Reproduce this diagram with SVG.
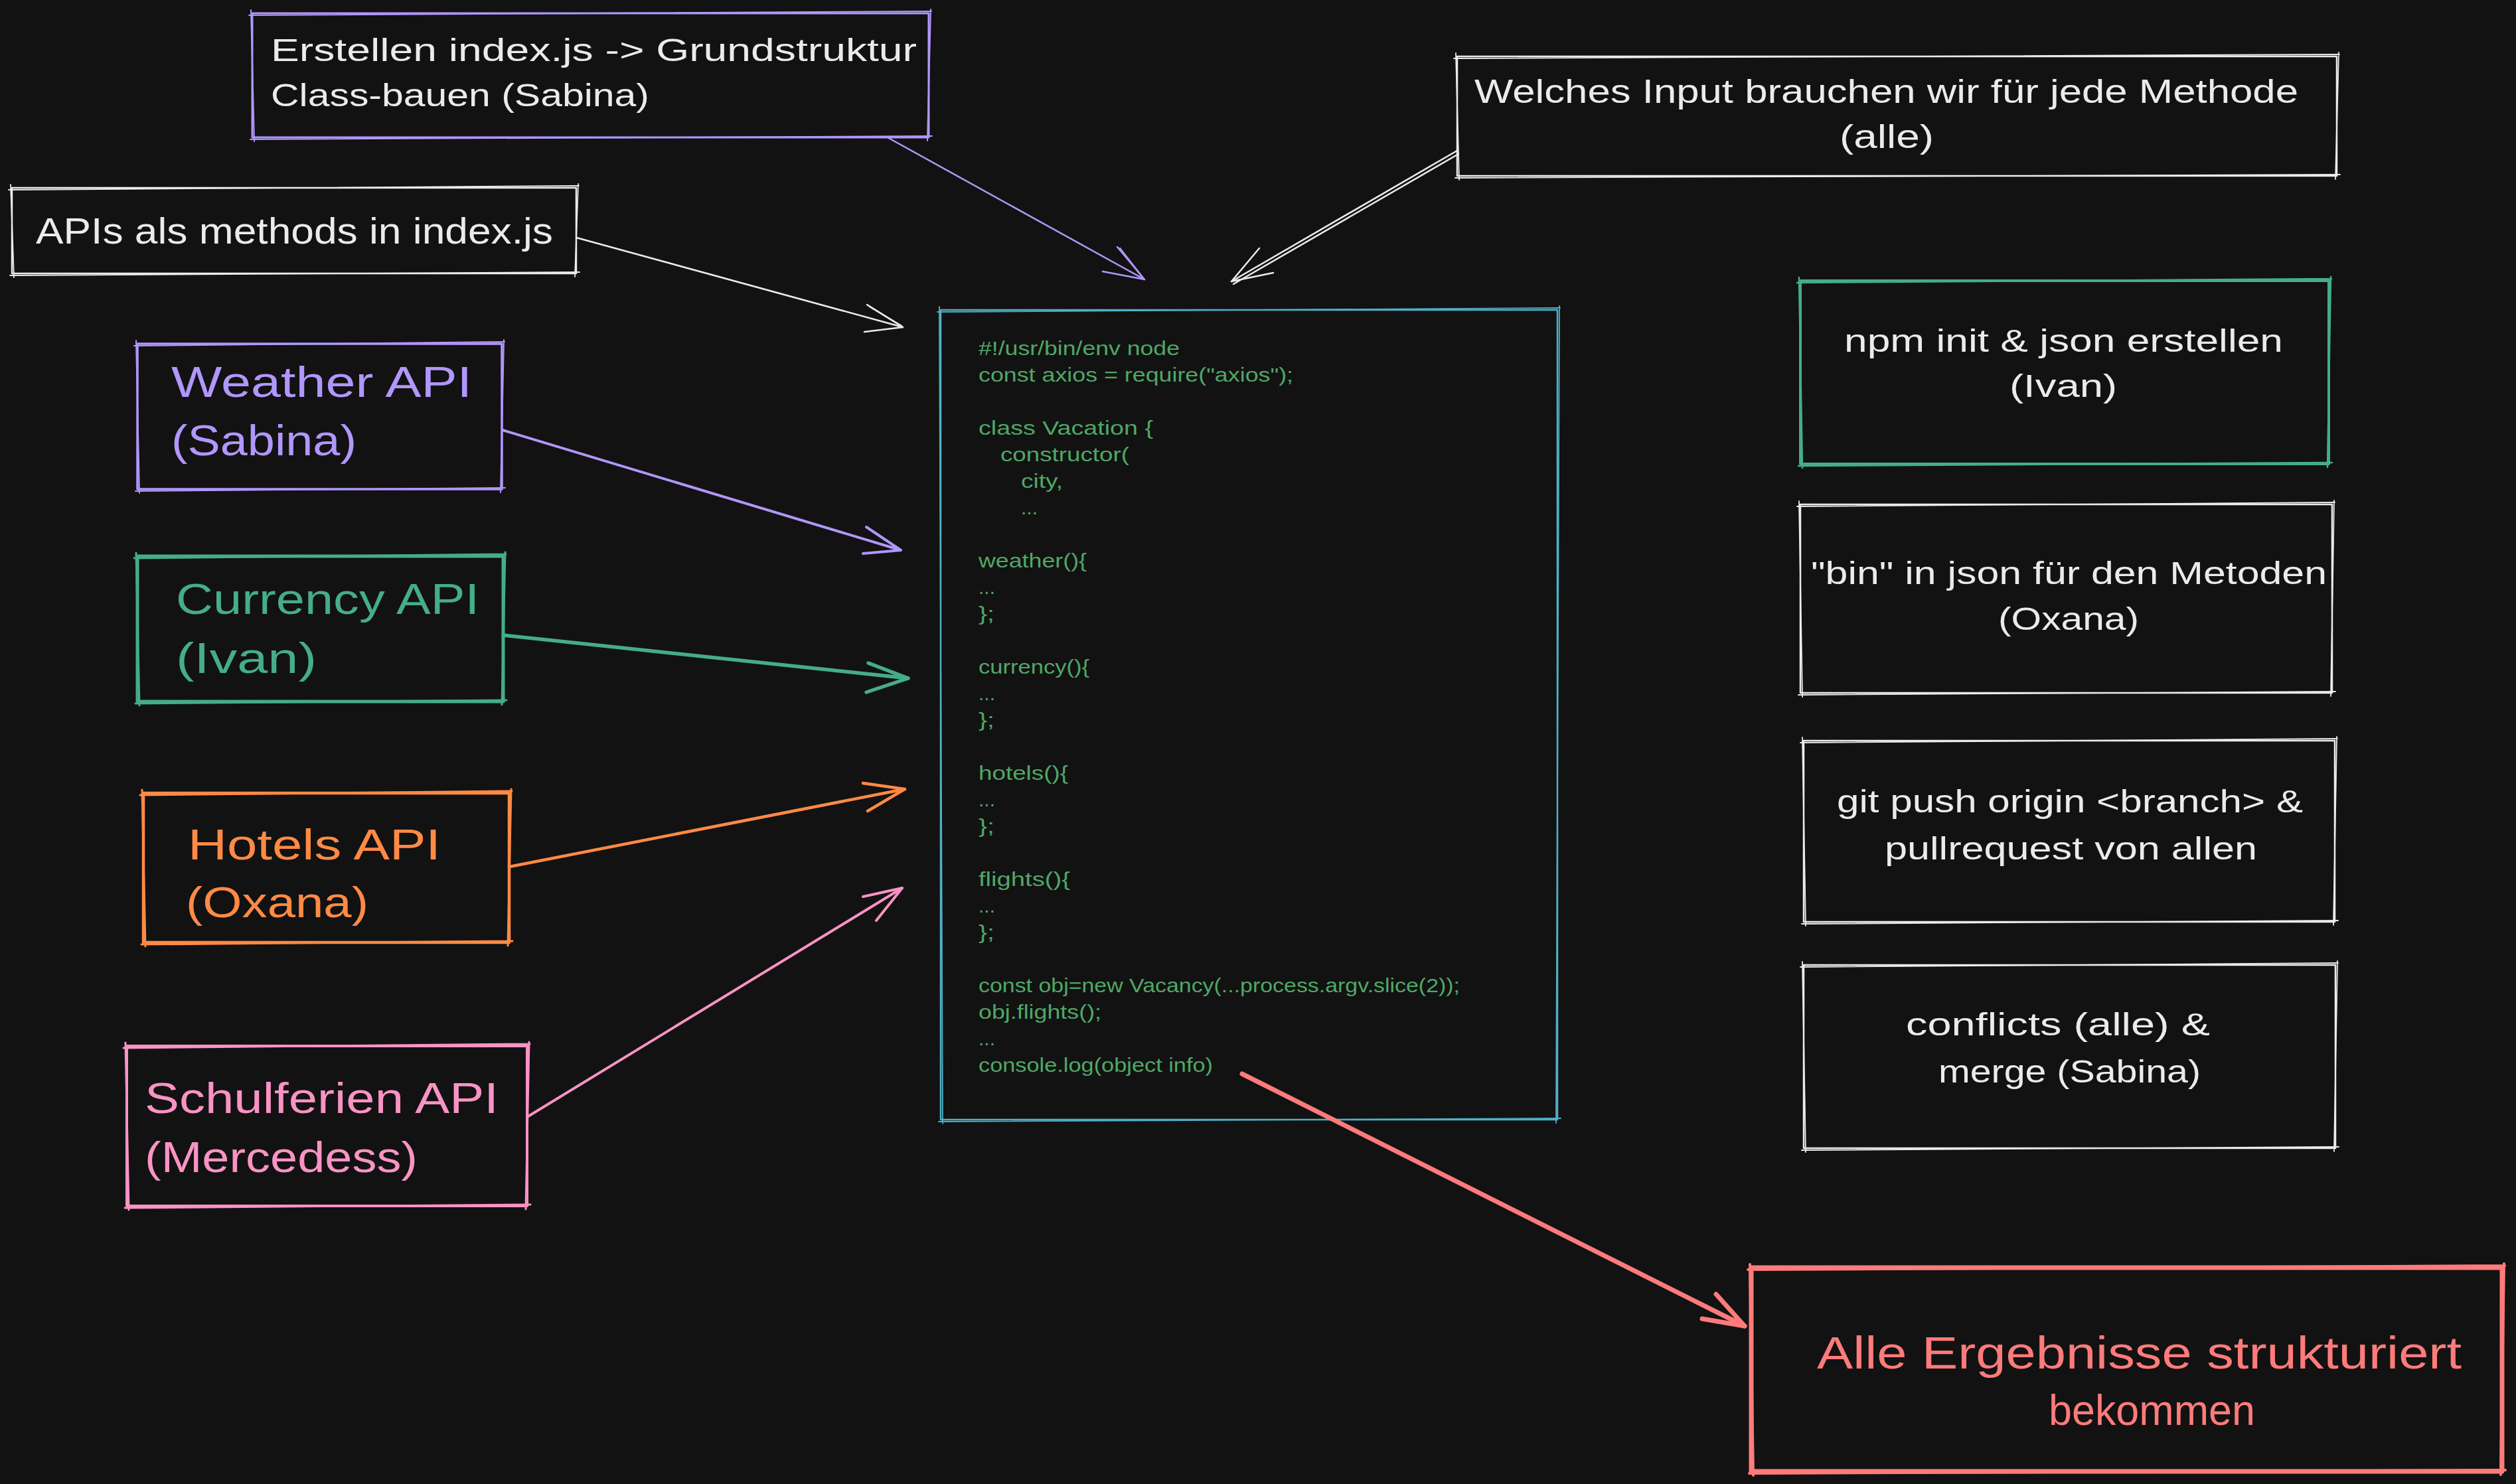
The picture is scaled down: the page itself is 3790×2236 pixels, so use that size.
<svg xmlns="http://www.w3.org/2000/svg" width="3790" height="2236" viewBox="0 0 3790 2236">
<style>
.bx{fill:#121212;stroke-linecap:round;stroke-linejoin:round}
.sk{fill:none;stroke-linecap:round;stroke-linejoin:round}
.ar{fill:none;stroke-linecap:round;stroke-linejoin:round}
.t{font-family:'Liberation Sans','DejaVu Sans',sans-serif}
.w{stroke:#ebebeb}.wf{fill:#ebebeb}
.p{stroke:#b197fc}.pf{fill:#b197fc}
.g{stroke:#45ad87}.gf{fill:#45ad87}
.o{stroke:#ff8a45}.of{fill:#ff8a45}
.k{stroke:#f993c4}.kf{fill:#f993c4}
.r{stroke:#ff7b7b}.rf{fill:#ff7b7b}
.c{stroke:#4fb0c6}
.code{font-family:'Liberation Sans','DejaVu Sans',sans-serif;font-size:30px;fill:#4fa866}
</style>
<rect x="0" y="0" width="3790" height="2236" fill="#121212"/>

<g id="erstellen">
  <rect class="bx p" stroke-width="3" x="380" y="20" width="1019" height="187"/>
  <path class="sk p" stroke-width="2" d="M375 23 L1403 17 M1402 14 L1397 212 M1404 205 L377 210 M383 213 L378 15"/>
  <text class="t wf" font-size="48" x="408" y="92" textLength="973" lengthAdjust="spacingAndGlyphs">Erstellen index.js -&gt; Grundstruktur</text>
  <text class="t wf" font-size="48" x="408" y="160" textLength="570" lengthAdjust="spacingAndGlyphs">Class-bauen (Sabina)</text>
</g>

<g id="apis">
  <rect class="bx w" stroke-width="2.5" x="18" y="283" width="850" height="129"/>
  <path class="sk w" stroke-width="1.8" d="M13 286 L872 280 M871 277 L866 417 M873 410 L15 415 M21 418 L16 278"/>
  <text class="t wf" font-size="56" x="54" y="367" textLength="779" lengthAdjust="spacingAndGlyphs">APIs als methods in index.js</text>
</g>

<g id="welches">
  <rect class="bx w" stroke-width="2.5" x="2195" y="85" width="1325" height="180"/>
  <path class="sk w" stroke-width="1.8" d="M2190 88 L3524 82 M3523 79 L3518 270 M3525 263 L2192 268 M2198 271 L2193 80"/>
  <text class="t wf" font-size="50" x="2221" y="155" textLength="1241" lengthAdjust="spacingAndGlyphs">Welches Input brauchen wir für jede Methode</text>
  <text class="t wf" font-size="50" x="2771" y="223" textLength="142" lengthAdjust="spacingAndGlyphs">(alle)</text>
</g>

<g id="weather">
  <rect class="bx p" stroke-width="3.5" x="207" y="518" width="549" height="219"/>
  <path class="sk p" stroke-width="2" d="M202 521 L760 515 M759 512 L754 742 M761 735 L204 740 M210 743 L205 513"/>
  <text class="t pf" font-size="64" x="258" y="598" textLength="453" lengthAdjust="spacingAndGlyphs">Weather API</text>
  <text class="t pf" font-size="64" x="258" y="686" textLength="279" lengthAdjust="spacingAndGlyphs">(Sabina)</text>
</g>

<g id="currency">
  <rect class="bx g" stroke-width="5" x="207" y="838" width="551" height="219"/>
  <path class="sk g" stroke-width="3" d="M202 841 L762 835 M761 832 L756 1062 M763 1055 L204 1060 M210 1063 L205 833"/>
  <text class="t gf" font-size="64" x="265" y="925" textLength="457" lengthAdjust="spacingAndGlyphs">Currency API</text>
  <text class="t gf" font-size="64" x="265" y="1014" textLength="212" lengthAdjust="spacingAndGlyphs">(Ivan)</text>
</g>

<g id="hotels">
  <rect class="bx o" stroke-width="4.5" x="216" y="1195" width="551" height="225"/>
  <path class="sk o" stroke-width="3" d="M211 1198 L771 1192 M770 1189 L765 1425 M772 1418 L213 1423 M219 1426 L214 1190"/>
  <text class="t of" font-size="64" x="283" y="1295" textLength="381" lengthAdjust="spacingAndGlyphs">Hotels API</text>
  <text class="t of" font-size="64" x="280" y="1382" textLength="275" lengthAdjust="spacingAndGlyphs">(Oxana)</text>
</g>

<g id="schulferien">
  <rect class="bx k" stroke-width="4" x="191" y="1576" width="603" height="241"/>
  <path class="sk k" stroke-width="3" d="M186 1579 L798 1573 M797 1570 L792 1822 M799 1815 L188 1820 M194 1823 L189 1571"/>
  <text class="t kf" font-size="64" x="218" y="1677" textLength="533" lengthAdjust="spacingAndGlyphs">Schulferien API</text>
  <text class="t kf" font-size="64" x="218" y="1766" textLength="411" lengthAdjust="spacingAndGlyphs">(Mercedess)</text>
</g>

<g id="code">
  <rect class="bx c" stroke-width="2.5" x="1417" y="467" width="929" height="1220"/>
  <path class="sk c" stroke-width="1.8" d="M1412 470 L2350 464 M2349 461 L2344 1692 M2351 1685 L1414 1690 M1420 1693 L1415 462"/>
  <text class="code" x="1474" y="535" textLength="303" lengthAdjust="spacingAndGlyphs">#!/usr/bin/env node</text>
  <text class="code" x="1474" y="575" textLength="474" lengthAdjust="spacingAndGlyphs">const axios = require(&quot;axios&quot;);</text>
  <text class="code" x="1474" y="655" textLength="263" lengthAdjust="spacingAndGlyphs">class Vacation {</text>
  <text class="code" x="1507" y="695" textLength="194" lengthAdjust="spacingAndGlyphs">constructor(</text>
  <text class="code" x="1538" y="735" textLength="63" lengthAdjust="spacingAndGlyphs">city,</text>
  <text class="code" x="1538" y="775" textLength="25" lengthAdjust="spacingAndGlyphs">...</text>
  <text class="code" x="1474" y="855" textLength="163" lengthAdjust="spacingAndGlyphs">weather(){</text>
  <text class="code" x="1474" y="895" textLength="25" lengthAdjust="spacingAndGlyphs">...</text>
  <text class="code" x="1474" y="935" textLength="24" lengthAdjust="spacingAndGlyphs">};</text>
  <text class="code" x="1474" y="1015" textLength="167" lengthAdjust="spacingAndGlyphs">currency(){</text>
  <text class="code" x="1474" y="1055" textLength="25" lengthAdjust="spacingAndGlyphs">...</text>
  <text class="code" x="1474" y="1095" textLength="24" lengthAdjust="spacingAndGlyphs">};</text>
  <text class="code" x="1474" y="1175" textLength="135" lengthAdjust="spacingAndGlyphs">hotels(){</text>
  <text class="code" x="1474" y="1215" textLength="25" lengthAdjust="spacingAndGlyphs">...</text>
  <text class="code" x="1474" y="1255" textLength="24" lengthAdjust="spacingAndGlyphs">};</text>
  <text class="code" x="1474" y="1335" textLength="138" lengthAdjust="spacingAndGlyphs">flights(){</text>
  <text class="code" x="1474" y="1375" textLength="25" lengthAdjust="spacingAndGlyphs">...</text>
  <text class="code" x="1474" y="1415" textLength="24" lengthAdjust="spacingAndGlyphs">};</text>
  <text class="code" x="1474" y="1495" textLength="725" lengthAdjust="spacingAndGlyphs">const obj=new Vacancy(...process.argv.slice(2));</text>
  <text class="code" x="1474" y="1535" textLength="185" lengthAdjust="spacingAndGlyphs">obj.flights();</text>
  <text class="code" x="1474" y="1575" textLength="25" lengthAdjust="spacingAndGlyphs">...</text>
  <text class="code" x="1474" y="1615" textLength="353" lengthAdjust="spacingAndGlyphs">console.log(object info)</text>
</g>

<g id="npm">
  <rect class="bx g" stroke-width="4" x="2712" y="423" width="796" height="276"/>
  <path class="sk g" stroke-width="2.5" d="M2707 426 L3512 420 M3511 417 L3506 704 M3513 697 L2709 702 M2715 705 L2710 418"/>
  <text class="t wf" font-size="48" x="2778" y="530" textLength="661" lengthAdjust="spacingAndGlyphs">npm init &amp; json erstellen</text>
  <text class="t wf" font-size="48" x="3027" y="598" textLength="162" lengthAdjust="spacingAndGlyphs">(Ivan)</text>
</g>

<g id="bin">
  <rect class="bx w" stroke-width="2.5" x="2712" y="760" width="801" height="284"/>
  <path class="sk w" stroke-width="1.8" d="M2707 763 L3517 757 M3516 754 L3511 1049 M3518 1042 L2709 1047 M2715 1050 L2710 755"/>
  <text class="t wf" font-size="48" x="2728" y="880" textLength="777" lengthAdjust="spacingAndGlyphs">&quot;bin&quot; in json für den Metoden</text>
  <text class="t wf" font-size="48" x="3010" y="949" textLength="212" lengthAdjust="spacingAndGlyphs">(Oxana)</text>
</g>

<g id="git">
  <rect class="bx w" stroke-width="2.5" x="2717" y="1116" width="800" height="273"/>
  <path class="sk w" stroke-width="1.8" d="M2712 1119 L3521 1113 M3520 1110 L3515 1394 M3522 1387 L2714 1392 M2720 1395 L2715 1111"/>
  <text class="t wf" font-size="48" x="2767" y="1224" textLength="702" lengthAdjust="spacingAndGlyphs">git push origin &lt;branch&gt; &amp;</text>
  <text class="t wf" font-size="48" x="2839" y="1295" textLength="561" lengthAdjust="spacingAndGlyphs">pullrequest von allen</text>
</g>

<g id="conflicts">
  <rect class="bx w" stroke-width="2.5" x="2717" y="1454" width="801" height="276"/>
  <path class="sk w" stroke-width="1.8" d="M2712 1457 L3522 1451 M3521 1448 L3516 1735 M3523 1728 L2714 1733 M2720 1736 L2715 1449"/>
  <text class="t wf" font-size="48" x="2871" y="1560" textLength="458" lengthAdjust="spacingAndGlyphs">conflicts (alle) &amp;</text>
  <text class="t wf" font-size="48" x="2920" y="1631" textLength="395" lengthAdjust="spacingAndGlyphs">merge (Sabina)</text>
</g>

<g id="ergebnisse">
  <rect class="bx r" stroke-width="7" x="2638" y="1910" width="1131" height="307"/>
  <path class="sk r" stroke-width="4" d="M2633 1913 L3773 1907 M3772 1904 L3767 2222 M3774 2215 L2635 2220 M2641 2223 L2636 1905"/>
  <text class="t rf" font-size="68" x="2737" y="2062" textLength="971" lengthAdjust="spacingAndGlyphs">Alle Ergebnisse strukturiert</text>
  <text class="t rf" font-size="64" x="3086" y="2147" textLength="311" lengthAdjust="spacingAndGlyphs">bekommen</text>
</g>

<g id="connectors">
  <g class="ar p" stroke-width="2.5">
    <path d="M1335 206 L1724 421"/>
    <path d="M1683 372 L1724 421 L1661 409"/>
    <path d="M1687 374 L1722 419"/>
  </g>
  <g class="ar w" stroke-width="2.5">
    <path d="M2195 227 L1855 424"/>
    <path d="M2197 232 L1858 428"/>
    <path d="M1897 374 L1855 424 L1918 411"/>
  </g>
  <g class="ar w" stroke-width="2.5">
    <path d="M868 358 L1360 493"/>
    <path d="M1306 459 L1360 493 L1302 500"/>
    <path d="M1310 462 L1358 491"/>
  </g>
  <g class="ar p" stroke-width="4">
    <path d="M757 648 L1357 829"/>
    <path d="M1305 794 L1357 829 L1300 834"/>
  </g>
  <g class="ar g" stroke-width="5.5">
    <path d="M758 957 L1368 1022"/>
    <path d="M1308 999 L1368 1022 L1305 1043"/>
  </g>
  <g class="ar o" stroke-width="4.5">
    <path d="M767 1306 L1363 1189"/>
    <path d="M1300 1180 L1363 1189 L1307 1222"/>
  </g>
  <g class="ar k" stroke-width="4">
    <path d="M794 1683 L1359 1338"/>
    <path d="M1300 1351 L1359 1338 L1320 1387"/>
  </g>
  <g class="ar r" stroke-width="7">
    <path d="M1871 1618 L2628 1998"/>
    <path d="M2585 1950 L2628 1998 L2564 1987"/>
  </g>
</g>
</svg>
